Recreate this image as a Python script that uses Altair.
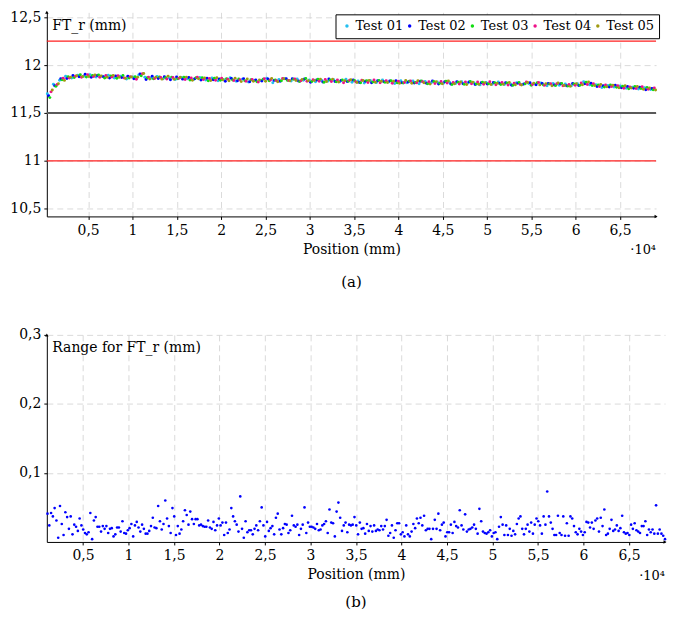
import altair as alt
import numpy as np
import pandas as pd

FONT = "DejaVu Serif"

# ---------------- data ----------------
TESTS = ["Test 01", "Test 02", "Test 03", "Test 04", "Test 05"]
COLORS = ["#22bff0", "#0000ff", "#11dd11", "#ee1188", "#a09a12"]

# sample positions of each test (mm): first and last sample
TOP_START = [400, 539, 678, 817, 956]
TOP_END = [68450, 68589, 68728, 68867, 69006]

# FT_r of each test, in micrometres
T01 = [11700, 11800, 11842, 11882, 11866, 11894, 11884, 11900, 11874, 11884,
       11893, 11866, 11882, 11854, 11875, 11896, 11872, 11863, 11881, 11858,
       11865, 11850, 11869, 11858, 11850, 11869, 11844, 11866, 11837, 11847,
       11867, 11832, 11851, 11823, 11839, 11840, 11863, 11815, 11849, 11858,
       11834, 11855, 11842, 11845, 11826, 11841, 11831, 11847, 11825, 11851,
       11820, 11833, 11812, 11839, 11818, 11844, 11823, 11808, 11836, 11814,
       11833, 11805, 11828, 11816, 11822, 11809, 11820, 11807, 11825, 11812,
       11816, 11793, 11819, 11800, 11824, 11796, 11802, 11816, 11797, 11807,
       11801, 11812, 11785, 11808, 11789, 11803, 11784, 11805, 11825, 11793,
       11794, 11766, 11786, 11772, 11781, 11757, 11769, 11750, 11762, 11745]
T02 = [11680, 11785, 11856, 11860, 11892, 11877, 11904, 11873, 11892, 11877,
       11865, 11885, 11869, 11883, 11856, 11906, 11849, 11884, 11860, 11879,
       11847, 11876, 11853, 11870, 11856, 11845, 11862, 11847, 11855, 11831,
       11859, 11837, 11858, 11826, 11845, 11834, 11854, 11840, 11832, 11856,
       11857, 11833, 11854, 11820, 11843, 11823, 11854, 11829, 11840, 11827,
       11843, 11819, 11832, 11816, 11837, 11825, 11834, 11835, 11815, 11824,
       11813, 11830, 11809, 11834, 11802, 11825, 11802, 11827, 11806, 11824,
       11796, 11816, 11803, 11818, 11807, 11815, 11788, 11811, 11801, 11815,
       11794, 11807, 11808, 11792, 11805, 11785, 11807, 11786, 11804, 11811,
       11775, 11785, 11771, 11789, 11764, 11777, 11758, 11769, 11743, 11756]
T03 = [11660, 11778, 11846, 11878, 11871, 11898, 11875, 11890, 11896, 11866,
       11887, 11862, 11891, 11865, 11877, 11889, 11868, 11856, 11875, 11867,
       11874, 11857, 11872, 11844, 11867, 11868, 11835, 11861, 11841, 11857,
       11844, 11854, 11835, 11846, 11826, 11853, 11837, 11845, 11837, 11840,
       11851, 11828, 11859, 11828, 11851, 11820, 11845, 11825, 11843, 11832,
       11839, 11816, 11836, 11824, 11840, 11820, 11837, 11815, 11812, 11830,
       11818, 11833, 11804, 11829, 11810, 11832, 11796, 11821, 11800, 11828,
       11802, 11820, 11806, 11816, 11798, 11813, 11790, 11819, 11805, 11788,
       11815, 11792, 11801, 11787, 11807, 11781, 11802, 11789, 11820, 11786,
       11791, 11771, 11793, 11768, 11779, 11753, 11775, 11754, 11767, 11741]
T04 = [11720, 11798, 11862, 11864, 11884, 11873, 11899, 11881, 11872, 11892,
       11874, 11889, 11864, 11879, 11852, 11908, 11874, 11860, 11871, 11855,
       11871, 11861, 11848, 11864, 11873, 11848, 11860, 11841, 11862, 11853,
       11839, 11846, 11831, 11848, 11822, 11856, 11843, 11835, 11859, 11838,
       11854, 11836, 11832, 11847, 11832, 11848, 11828, 11844, 11816, 11842,
       11825, 11842, 11817, 11843, 11814, 11836, 11811, 11830, 11818, 11834,
       11816, 11826, 11826, 11807, 11829, 11813, 11819, 11803, 11822, 11805,
       11823, 11799, 11825, 11794, 11818, 11791, 11811, 11798, 11822, 11796,
       11819, 11790, 11804, 11806, 11783, 11798, 11789, 11813, 11798, 11805,
       11777, 11792, 11775, 11785, 11758, 11772, 11755, 11773, 11747, 11760]
T05 = [11740, 11805, 11840, 11873, 11889, 11880, 11880, 11896, 11887, 11872,
       11890, 11872, 11861, 11875, 11872, 11912, 11854, 11873, 11853, 11883,
       11852, 11872, 11874, 11842, 11858, 11864, 11839, 11868, 11846, 11837,
       11862, 11827, 11855, 11830, 11843, 11831, 11859, 11826, 11856, 11835,
       11839, 11850, 11836, 11839, 11853, 11828, 11851, 11822, 11836, 11847,
       11817, 11838, 11839, 11821, 11830, 11818, 11832, 11811, 11839, 11809,
       11836, 11816, 11802, 11827, 11805, 11834, 11805, 11824, 11797, 11821,
       11799, 11814, 11797, 11811, 11800, 11818, 11794, 11792, 11817, 11810,
       11793, 11804, 11784, 11813, 11787, 11778, 11805, 11794, 11823, 11787,
       11796, 11774, 11788, 11763, 11783, 11760, 11777, 11747, 11760, 11739]

RANGE_POS_START = 1105
RANGE_POS_END = 68950
RANGE = [
    0.041, 0.024, 0.042, 0.037, 0.049, 0.031, 0.006, 0.052, 0.026, 0.010,
    0.043, 0.036, 0.019, 0.037, 0.011, 0.025, 0.022, 0.016, 0.034, 0.024,
    0.018, 0.013, 0.011, 0.014, 0.042, 0.004, 0.031, 0.036, 0.022, 0.022,
    0.015, 0.023, 0.019, 0.023, 0.013, 0.019, 0.020, 0.008, 0.011, 0.021,
    0.021, 0.015, 0.030, 0.013, 0.012, 0.017, 0.020, 0.026, 0.008, 0.024,
    0.029, 0.021, 0.015, 0.025, 0.019, 0.012, 0.012, 0.016, 0.023, 0.035,
    0.021, 0.020, 0.052, 0.030, 0.018, 0.026, 0.060, 0.034, 0.023, 0.013,
    0.049, 0.037, 0.010, 0.023, 0.012, 0.018, 0.030, 0.046, 0.039, 0.025,
    0.044, 0.033, 0.026, 0.033,
    0.033, 0.024, 0.025, 0.023, 0.022, 0.022, 0.031, 0.021, 0.019, 0.029,
    0.017, 0.024, 0.034, 0.024, 0.028, 0.010, 0.028, 0.013, 0.018, 0.049,
    0.037, 0.030, 0.025, 0.015, 0.066, 0.019, 0.006, 0.030, 0.014, 0.017,
    0.017, 0.011, 0.019, 0.024, 0.017, 0.030, 0.050, 0.024, 0.008, 0.029,
    0.016, 0.020, 0.023, 0.011, 0.035, 0.041, 0.018, 0.011, 0.020, 0.026,
    0.025, 0.013, 0.017, 0.038, 0.024, 0.022, 0.025, 0.010, 0.019, 0.025,
    0.050, 0.013, 0.028, 0.022, 0.022, 0.021, 0.019, 0.026, 0.017, 0.018,
    0.024, 0.026, 0.030, 0.013, 0.047, 0.028, 0.027, 0.008, 0.044, 0.057,
    0.035, 0.016, 0.024, 0.028, 0.014, 0.025,
    0.024, 0.025, 0.036, 0.024, 0.011, 0.028, 0.019, 0.020, 0.012, 0.026,
    0.016, 0.023, 0.015, 0.024, 0.016, 0.018, 0.017, 0.023, 0.018, 0.023,
    0.032, 0.009, 0.013, 0.024, 0.006, 0.017, 0.027, 0.027, 0.011, 0.014,
    0.008, 0.024, 0.011, 0.008, 0.015, 0.026, 0.020, 0.034, 0.027, 0.035,
    0.024, 0.038, 0.017, 0.019, 0.019, 0.004, 0.019, 0.032, 0.019, 0.041,
    0.017, 0.025, 0.028, 0.008, 0.014, 0.014, 0.025, 0.013, 0.029, 0.023,
    0.021, 0.046, 0.024, 0.018, 0.040, 0.015, 0.018, 0.019, 0.021, 0.025,
    0.019, 0.012, 0.048, 0.030, 0.015, 0.013, 0.012, 0.014, 0.017, 0.008,
    0.013, 0.014, 0.004, 0.022, 0.036, 0.025, 0.010,
    0.024, 0.010, 0.019, 0.009, 0.016, 0.011, 0.026, 0.034, 0.037, 0.019,
    0.011, 0.019, 0.025, 0.015, 0.028, 0.012, 0.025, 0.034, 0.030, 0.024,
    0.012, 0.037, 0.025, 0.073, 0.037, 0.028, 0.019, 0.010, 0.010, 0.038,
    0.013, 0.010, 0.037, 0.009, 0.027, 0.009, 0.037, 0.034, 0.023, 0.014,
    0.011, 0.019, 0.015, 0.010, 0.014, 0.029, 0.028, 0.021, 0.028, 0.019,
    0.031, 0.034, 0.015, 0.035, 0.023, 0.047, 0.010, 0.012, 0.019, 0.032,
    0.016, 0.018, 0.024, 0.016, 0.020, 0.038, 0.014, 0.012, 0.013, 0.010,
    0.025, 0.019, 0.027, 0.017, 0.015, 0.013, 0.023, 0.023, 0.030, 0.010,
    0.018, 0.014, 0.018, 0.012, 0.053, 0.012, 0.018, 0.012, 0.009, 0.004,
]

X_TICKS = [5000, 10000, 15000, 20000, 25000, 30000, 35000, 40000, 45000,
           50000, 55000, 60000, 65000]
Y_TICKS_TOP = [10.5, 11.0, 11.5, 12.0, 12.5]
Y_TICKS_BOT = [0.1, 0.2, 0.3]
LIMITS_RED = [11.0, 12.25]
NOMINAL = [11.5]

TOP_X = [340, 69060]
TOP_Y = [10.42, 12.55]
BOT_X = [1030, 68950]
BOT_Y = [0.0, 0.3]

# ---------------- tables ----------------
rows = []
for name, series, a, b in zip(TESTS, [T01, T02, T03, T04, T05], TOP_START, TOP_END):
    pos = np.linspace(a, b, len(series))
    for p, v in zip(pos, series):
        rows.append({"pos": float(p), "val": v / 1000.0, "test": name})
top_df = pd.DataFrame(rows)

range_df = pd.DataFrame({
    "pos": np.linspace(RANGE_POS_START, RANGE_POS_END, len(RANGE)),
    "val": RANGE,
})
one = pd.DataFrame({"k": [0]})

XLAB = "replace(format(datum.value / 10000, '.1~f'), '.', ',')"
YLAB = "replace(format(datum.value, '.1~f'), '.', ',')"
FS = 14


def x_axis():
    return alt.Axis(values=X_TICKS, labelExpr=XLAB, title="Position (mm)",
                    tickSize=3, labelPadding=4, titlePadding=5,
                    labelOverlap=False, labelFlush=False)


def y_axis(title, ticks):
    return alt.Axis(values=ticks, labelExpr=YLAB, title=title, titleAngle=0,
                    titleAlign="left", titleBaseline="middle", titleX=5,
                    titleY=13, tickSize=3, labelPadding=3, labelOverlap=False)


def panel_title(txt, off):
    return alt.TitleParams(txt, orient="bottom", anchor="middle", offset=off,
                           fontSize=15, font=FONT, fontWeight="normal")


# ---------------- top panel ----------------
xs_t = alt.Scale(domain=TOP_X, nice=False, zero=False)
ys_t = alt.Scale(domain=TOP_Y, nice=False, zero=False)

red = alt.Chart(pd.DataFrame({"y": LIMITS_RED})).mark_rule(
    color="#ff2020", strokeWidth=1.2).encode(y=alt.Y("y:Q", scale=ys_t))
nom = alt.Chart(pd.DataFrame({"y": NOMINAL})).mark_rule(
    color="#5a5a5a", strokeWidth=2).encode(y=alt.Y("y:Q", scale=ys_t))

pts = alt.Chart(top_df).mark_circle(size=9, opacity=1).encode(
    x=alt.X("pos:Q", scale=xs_t, axis=x_axis()),
    y=alt.Y("val:Q", scale=ys_t, axis=y_axis("FT_r (mm)", Y_TICKS_TOP)),
    color=alt.Color("test:N", scale=alt.Scale(domain=TESTS, range=COLORS),
                    legend=alt.Legend(title=None, orient="none", legendX=290,
                                      legendY=2, direction="horizontal",
                                      columns=5, symbolType="circle",
                                      symbolSize=12, symbolStrokeWidth=0,
                                      labelFontSize=13, labelFont=FONT,
                                      labelOffset=2, columnPadding=0,
                                      strokeColor="black", fillColor="white",
                                      padding=5, cornerRadius=0)),
)

ya_t = alt.Chart(one).mark_point(shape="triangle-up", filled=True, size=12,
                                 color="black", opacity=1).encode(
    x=alt.datum(TOP_X[0]), y=alt.datum(TOP_Y[1]))
xa_t = alt.Chart(one).mark_point(shape="triangle-right", filled=True, size=12,
                                 color="black", opacity=1).encode(
    x=alt.datum(TOP_X[1]), y=alt.datum(TOP_Y[0]))
x10_t = alt.Chart(one).mark_text(text="·10⁴", align="right", baseline="middle",
                                 fontSize=13, font=FONT, dy=34,
                                 color="black").encode(
    x=alt.datum(TOP_X[1]), y=alt.datum(TOP_Y[0]))

top = alt.layer(red, nom, pts, ya_t, xa_t, x10_t).properties(
    width=612, height=205, title=panel_title("(a)", 18))

# ---------------- bottom panel ----------------
xs_b = alt.Scale(domain=BOT_X, nice=False, zero=False)
ys_b = alt.Scale(domain=BOT_Y, nice=False, zero=False)

rpts = alt.Chart(range_df).mark_circle(size=7, opacity=1, color="#0000ff").encode(
    x=alt.X("pos:Q", scale=xs_b, axis=x_axis()),
    y=alt.Y("val:Q", scale=ys_b, axis=y_axis("Range for FT_r (mm)", Y_TICKS_BOT)),
)
ya_b = alt.Chart(one).mark_point(shape="triangle-up", filled=True, size=12,
                                 color="black", opacity=1).encode(
    x=alt.datum(BOT_X[0]), y=alt.datum(BOT_Y[1]))
xa_b = alt.Chart(one).mark_point(shape="triangle-right", filled=True, size=12,
                                 color="black", opacity=1).encode(
    x=alt.datum(BOT_X[1]), y=alt.datum(BOT_Y[0]))
x10_b = alt.Chart(one).mark_text(text="·10⁴", align="right", baseline="middle",
                                 fontSize=13, font=FONT, dy=34,
                                 color="black").encode(
    x=alt.datum(BOT_X[1]), y=alt.datum(BOT_Y[0]))

bottom = alt.layer(rpts, ya_b, xa_b, x10_b).properties(
    width=621, height=208, title=panel_title("(b)", 12))

chart = alt.vconcat(top, bottom, spacing=38).properties(
    padding={"left": 1, "top": 0, "right": 0, "bottom": 0}
).configure(font=FONT).configure_view(stroke=None).configure_axis(
    labelFont=FONT, labelFontSize=FS, titleFont=FONT, titleFontSize=FS,
    titleFontWeight="normal", labelColor="black", titleColor="black",
    domainColor="black", domainWidth=1, tickColor="black", tickWidth=1,
    gridColor="#d0d0d0", gridDash=[6, 4], gridWidth=0.8,
).configure_legend(labelFont=FONT, labelColor="black")

chart.save("out.html", embed_options={"renderer": "svg", "actions": False})
